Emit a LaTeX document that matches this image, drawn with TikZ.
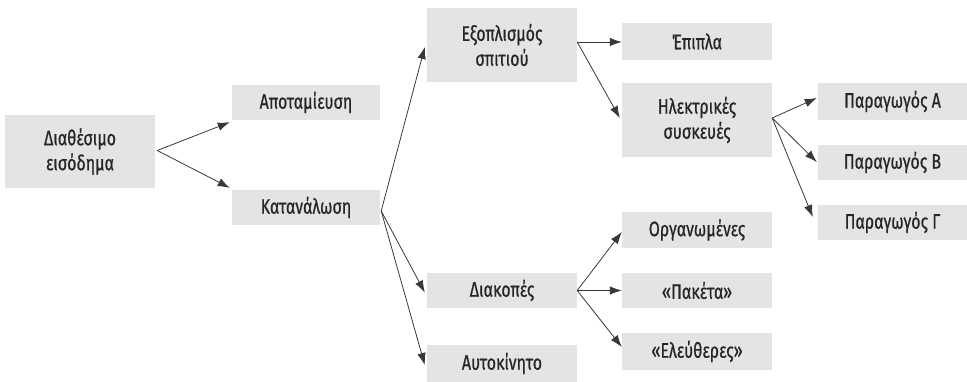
\documentclass[tikz,border=0pt]{standalone}
\usepackage{fontspec}
\setmainfont[FakeStretch=0.76,FakeBold=0.6]{Fira Sans}
\usetikzlibrary{arrows.meta}
\definecolor{boxfill}{HTML}{E4E4E4}
\definecolor{arrowcol}{HTML}{383838}
\definecolor{txtcol}{HTML}{262626}
\tikzset{
  box/.style={rectangle, fill=boxfill, draw=none, minimum width=150pt, minimum height=35pt,
    inner sep=0pt, align=center, text=txtcol, font=\fontsize{21}{25}\selectfont},
  tallbox/.style={box, minimum height=74pt},
  arr/.style={draw=arrowcol, line width=0.8pt, -{Latex[length=12pt,width=8.5pt]}}
}
\begin{document}
\begin{tikzpicture}[x=1pt,y=-1pt]
\useasboundingbox (0,0) rectangle (967,382);
\node[tallbox, minimum height=73pt] (dia) at (80,151.5) {Διαθέσιμο\\εισόδημα};
\node[box, minimum width=148pt] (apo) at (306,102.5) {Αποταμίευση};
\node[box, minimum width=148pt] (kat) at (306,207.5) {Κατανάλωση};
\node[tallbox] (exo) at (502,45) {Εξοπλισμός\\σπιτιού};
\node[box] (dik) at (502,290.5) {Διακοπές};
\node[box, minimum height=37pt] (aut) at (502,363.5) {Αυτοκίνητο};
\node[box, minimum height=37pt] (epi) at (697,41.5) {Έπιπλα};
\node[tallbox] (ilk) at (697,120) {Ηλεκτρικές\\συσκευές};
\node[box, minimum height=36pt] (org) at (697,230) {Οργανωμένες};
\node[box] (pak) at (697,290.5) {«Πακέτα»};
\node[box, minimum height=37pt] (ele) at (697,351.5) {«Ελεύθερες»};
\node[box, minimum width=149pt, minimum height=37pt] (pa) at (892.5,101.5) {Παραγωγός Α};
\node[box, minimum width=149pt] (pb) at (892.5,162.5) {Παραγωγός Β};
\node[box, minimum width=149pt] (pg) at (892.5,222.5) {Παραγωγός Γ};

\coordinate (diaout) at ([xshift=2pt,yshift=1pt]dia.east);
\coordinate (katout) at ([xshift=1pt,yshift=-3.5pt]kat.east);
\coordinate (exoout) at ([yshift=3pt]exo.east);
\coordinate (dikout) at (dik.east);
\coordinate (ilkout) at ([yshift=2pt]ilk.east);

\draw[arr] (diaout) -- ([xshift=-2pt,yshift=-2pt]apo.south west);
\draw[arr] (diaout) -- ([xshift=-2pt,yshift=2pt]kat.north west);
\draw[arr] (katout) -- ([xshift=-2pt,yshift=-2pt]exo.west);
\draw[arr] (katout) -- ([xshift=-2pt,yshift=-2pt]dik.west);
\draw[arr] (katout) -- ([xshift=-2pt,yshift=-1.5pt]aut.west);
\draw[arr] (exoout) -- ([yshift=-0.5pt]epi.west);
\draw[arr] (exoout) -- ([xshift=-2pt,yshift=2pt]ilk.west);
\draw[arr] (dikout) -- ([yshift=-2pt]org.west);
\draw[arr] (dikout) -- (pak.west);
\draw[arr] (dikout) -- ([yshift=4.5pt]ele.west);
\draw[arr] (ilkout) -- ([xshift=-1pt,yshift=3.5pt]pa.west);
\draw[arr] (ilkout) -- ([xshift=-1pt,yshift=0.5pt]pb.west);
\draw[arr] (ilkout) -- ([xshift=-5pt,yshift=5.5pt]pg.west);
\end{tikzpicture}
\end{document}
